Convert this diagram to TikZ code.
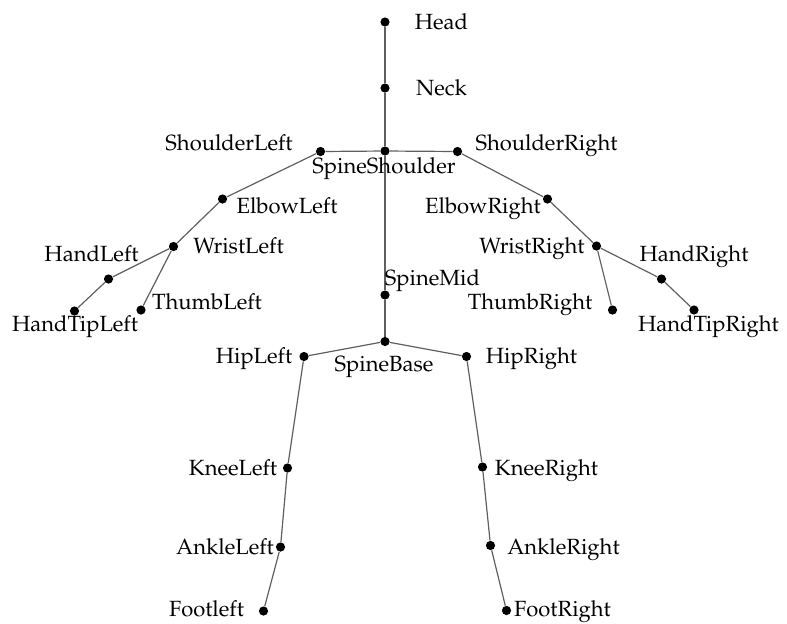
\documentclass[tikz,border=0pt]{standalone}
\usepackage[T1]{fontenc}
\usepackage{mathpazo}
\usepackage{tikz}
\usetikzlibrary{positioning}
\definecolor{bonegray}{RGB}{95,95,95}

\begin{document}
\begin{tikzpicture}[x=0.5pt, y=-0.5pt,
    joint/.style={circle, fill=black, inner sep=0pt, minimum size=4.6pt},
    bone/.style={draw=bonegray, line width=0.6pt},
    lbl/.style={anchor=base, font=\fontsize{11}{13}\selectfont, inner sep=0pt}]
    \useasboundingbox (0,0) rectangle (787,623);
    % joints
    \node[joint] (head) at (385,22) {};
    \node[joint] (neck) at (385,88) {};
    \node[joint] (sshoulder) at (385,151) {};
    \node[joint] (shleft) at (320.5,151.5) {};
    \node[joint] (shright) at (457.5,151.5) {};
    \node[joint] (elbleft) at (222.5,199) {};
    \node[joint] (elbright) at (547.5,199) {};
    \node[joint] (wrleft) at (173.5,246.5) {};
    \node[joint] (wrright) at (596.5,246) {};
    \node[joint] (hdleft) at (108.5,279) {};
    \node[joint] (hdright) at (661.5,279) {};
    \node[joint] (tipleft) at (74.5,311) {};
    \node[joint] (tipright) at (694,310) {};
    \node[joint] (thleft) at (141,310) {};
    \node[joint] (thright) at (612.5,310) {};
    \node[joint] (smid) at (385,295) {};
    \node[joint] (sbase) at (385,341.5) {};
    \node[joint] (hipleft) at (304,356.5) {};
    \node[joint] (hipright) at (466.5,356.5) {};
    \node[joint] (knleft) at (287.5,468) {};
    \node[joint] (knright) at (482.5,467) {};
    \node[joint] (anleft) at (280.5,547) {};
    \node[joint] (anright) at (490.5,545.5) {};
    \node[joint] (ftleft) at (263.5,611) {};
    \node[joint] (ftright) at (506.5,610.5) {};
    % bones
    \draw[bone] (head) -- (neck) -- (sshoulder) -- (smid) -- (sbase);
    \draw[bone] (shleft) -- (sshoulder) -- (shright);
    \draw[bone] (shleft) -- (elbleft) -- (wrleft) -- (hdleft) -- (tipleft);
    \draw[bone] (wrleft) -- (thleft);
    \draw[bone] (shright) -- (elbright) -- (wrright) -- (hdright) -- (tipright);
    \draw[bone] (wrright) -- (thright);
    \draw[bone] (sbase) -- (hipleft) -- (knleft) -- (anleft) -- (ftleft);
    \draw[bone] (sbase) -- (hipright) -- (knright) -- (anright) -- (ftright);
    % labels
    \node[lbl] (headlbl) at (441.5,29) {Head};
    \node[lbl] (necklbl) at (441.5,95) {Neck};
    \node[lbl] (shleftlbl) at (229,150) {ShoulderLeft};
    \node[lbl] (sshoulderlbl) at (384,173) {SpineShoulder};
    \node[lbl] (shrightlbl) at (546.5,150) {ShoulderRight};
    \node[lbl] (elbleftlbl) at (287,213) {ElbowLeft};
    \node[lbl] (elbrightlbl) at (483,213) {ElbowRight};
    \node[lbl] (wrleftlbl) at (238.5,253) {WristLeft};
    \node[lbl] (wrrightlbl) at (532,253) {WristRight};
    \node[lbl] (hdleftlbl) at (91.5,261.5) {HandLeft};
    \node[lbl] (hdrightlbl) at (694,261.5) {HandRight};
    \node[lbl] (thleftlbl) at (207,309) {ThumbLeft};
    \node[lbl] (thrightlbl) at (530,309) {ThumbRight};
    \node[lbl] (tipleftlbl) at (75,331.5) {HandTipLeft};
    \node[lbl] (tiprightlbl) at (708.5,331.5) {HandTipRight};
    \node[lbl] (smidlbl) at (432.5,285) {SpineMid};
    \node[lbl] (sbaselbl) at (384,371.5) {SpineBase};
    \node[lbl] (hipleftlbl) at (254,363.5) {HipLeft};
    \node[lbl] (hiprightlbl) at (531.5,363.5) {HipRight};
    \node[lbl] (knleftlbl) at (233,475) {KneeLeft};
    \node[lbl] (knrightlbl) at (546.5,475) {KneeRight};
    \node[lbl] (anleftlbl) at (225,554) {AnkleLeft};
    \node[lbl] (anrightlbl) at (563.5,554) {AnkleRight};
    \node[lbl] (ftleftlbl) at (206.5,616.5) {Footleft};
    \node[lbl] (ftrightlbl) at (562.5,616.5) {FootRight};
\end{tikzpicture}
\end{document}
